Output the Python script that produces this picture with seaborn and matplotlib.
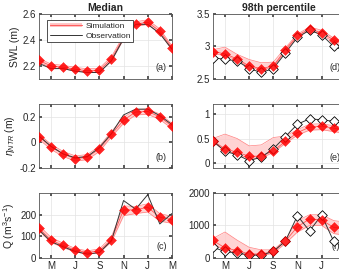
import numpy as np
import pandas as pd
import matplotlib
matplotlib.use("Agg")
import matplotlib.pyplot as plt
import seaborn as sns
from matplotlib.lines import Line2D
from matplotlib.patches import Patch

# months April .. March
months = np.arange(1, 13)
tick_pos = [2, 4, 6, 8, 10, 12]
tick_labels = ["M", "J", "S", "N", "J", "M"]

# Median
swl_med_sim = [2.243, 2.20, 2.19, 2.175, 2.163, 2.168, 2.255, 2.42, 2.52, 2.537, 2.467, 2.34]
swl_med_obs = [2.22, 2.18, 2.18, 2.16, 2.15, 2.15, 2.24, 2.41, 2.52, 2.52, 2.45, 2.33]
swl_med_lo = [2.228, 2.188, 2.178, 2.162, 2.150, 2.155, 2.240, 2.405, 2.505, 2.520, 2.450, 2.325]
swl_med_hi = [2.258, 2.215, 2.205, 2.190, 2.178, 2.183, 2.272, 2.435, 2.540, 2.555, 2.485, 2.355]

ntr_med_sim = [0.046, -0.035, -0.09, -0.127, -0.115, -0.05, 0.064, 0.174, 0.238, 0.243, 0.20, 0.128]
ntr_med_obs = [0.05, -0.03, -0.09, -0.12, -0.11, -0.04, 0.07, 0.215, 0.26, 0.26, 0.21, 0.14]
ntr_med_lo = [0.025, -0.055, -0.11, -0.145, -0.135, -0.07, 0.045, 0.150, 0.215, 0.220, 0.180, 0.108]
ntr_med_hi = [0.065, -0.015, -0.07, -0.105, -0.095, -0.03, 0.085, 0.195, 0.258, 0.262, 0.222, 0.150]

q_med_sim = [137, 82, 58, 36, 25, 33, 85, 222, 222, 234, 188, 177]
q_med_obs = [130, 75, 52, 30, 18, 25, 80, 265, 225, 292, 157, 205]
q_med_lo = [125, 72, 48, 28, 18, 25, 75, 195, 205, 212, 170, 160]
q_med_hi = [150, 95, 68, 44, 33, 42, 98, 240, 238, 250, 205, 192]

# 98th percentile
swl_98_sim = [2.922, 2.886, 2.81, 2.70, 2.66, 2.70, 2.95, 3.17, 3.27, 3.21, 3.10, 3.02]
swl_98_obs = [2.83, 2.80, 2.78, 2.66, 2.60, 2.66, 2.90, 3.14, 3.25, 3.18, 3.00, 2.93]
swl_98_lo = [2.89, 2.86, 2.79, 2.68, 2.64, 2.68, 2.93, 3.15, 3.25, 3.18, 3.07, 2.96]
swl_98_hi = [2.95, 2.99, 2.88, 2.80, 2.75, 2.76, 2.98, 3.19, 3.30, 3.25, 3.13, 3.05]

ntr_98_sim = [0.45, 0.29, 0.22, 0.14, 0.14, 0.25, 0.44, 0.62, 0.73, 0.75, 0.71, 0.66]
ntr_98_obs = [0.45, 0.24, 0.17, 0.05, 0.12, 0.29, 0.54, 0.79, 0.90, 0.88, 0.85, 0.80]
ntr_98_lo = [0.42, 0.26, 0.18, 0.10, 0.10, 0.22, 0.40, 0.57, 0.67, 0.68, 0.64, 0.60]
ntr_98_hi = [0.50, 0.59, 0.50, 0.35, 0.37, 0.52, 0.55, 0.68, 0.79, 0.80, 0.76, 0.72]

q_98_sim = [540, 310, 230, 125, 120, 200, 520, 960, 1200, 1170, 940, 900]
q_98_obs = [330, 200, 150, 95, 90, 200, 520, 1300, 830, 1320, 510, 300]
q_98_lo = [450, 230, 150, 80, 70, 150, 450, 800, 1000, 1000, 750, 700]
q_98_hi = [600, 800, 550, 330, 250, 250, 560, 1150, 1330, 1330, 1150, 1100]

sns.set_theme(style="whitegrid")
plt.rcParams["font.family"] = ["Liberation Sans", "DejaVu Sans"]
plt.rcParams["mathtext.fontset"] = "custom"
plt.rcParams["mathtext.rm"] = "Liberation Sans"
plt.rcParams["mathtext.it"] = "Liberation Sans:italic"

fig = plt.figure(figsize=(3.39, 2.71), dpi=100)

lefts = [0.115, 0.628]
bottoms = [0.7085, 0.380, 0.048]
heights = [0.240, 0.236, 0.240]
w = 0.392

panels = [
    [(swl_med_sim, swl_med_obs, swl_med_lo, swl_med_hi, (2.1, 2.6), [2.2, 2.4, 2.6], ["2.2", "2.4", "2.6"], "(a)"),
     (ntr_med_sim, ntr_med_obs, ntr_med_lo, ntr_med_hi, (-0.2, 0.3), [-0.2, 0, 0.2], ["-0.2", "0", "0.2"], "(b)"),
     (q_med_sim, q_med_obs, q_med_lo, q_med_hi, (0, 300), [0, 100, 200], ["0", "100", "200"], "(c)")],
    [(swl_98_sim, swl_98_obs, swl_98_lo, swl_98_hi, (2.5, 3.5), [2.5, 3, 3.5], ["2.5", "3", "3.5"], "(d)"),
     (ntr_98_sim, ntr_98_obs, ntr_98_lo, ntr_98_hi, (-0.1, 1.2), [0, 0.5, 1], ["0", "0.5", "1"], "(e)"),
     (q_98_sim, q_98_obs, q_98_lo, q_98_hi, (0, 2000), [0, 1000, 2000], ["0", "1000", "2000"], "(f)")],
]
ylabels = ["SWL (m)", r"$\eta_{NTR}$ (m)", r"Q (m$^3$s$^{-1}$)"]
titles = ["Median", "98th percentile"]

for c in range(2):
    for r in range(3):
        sim, obs, lo, hi, ylim, yt, ytl, lab = panels[c][r]
        ax = fig.add_axes([lefts[c], bottoms[r], w, heights[r]])
        ax.fill_between(months, lo, hi, color="#ffc8c8", alpha=0.8, lw=0, zorder=1)
        sns.lineplot(x=months, y=lo, ax=ax, color="#ff8080", lw=0.5, zorder=2)
        sns.lineplot(x=months, y=hi, ax=ax, color="#ff8080", lw=0.5, zorder=2)
        sns.lineplot(x=months, y=sim, ax=ax, color="red", lw=0.6, alpha=0.6, zorder=3)
        sns.lineplot(x=months, y=obs, ax=ax, color="#333333", lw=0.7, zorder=4)
        if c == 1:
            sns.scatterplot(x=months, y=obs, ax=ax, marker="D", s=24, facecolor="white",
                            edgecolor="black", linewidth=0.6, zorder=5)
        sns.scatterplot(x=months, y=sim, ax=ax, marker="D", s=26, color="red",
                        edgecolor="red", linewidth=0.3, alpha=0.85, zorder=6)
        ax.set_xlim(1, 12)
        ax.set_ylim(*ylim)
        ax.set_yticks(yt)
        ax.set_yticklabels(ytl)
        ax.set_xticks(tick_pos)
        if r == 2:
            # last label of the right column falls outside the figure
            ax.set_xticklabels(tick_labels if c == 0 else tick_labels[:-1] + [""])
        else:
            ax.set_xticklabels([])
        ax.tick_params(axis="both", labelsize=7, direction="in", length=2, pad=2,
                       color="#444444", bottom=True, left=True, top=True, right=True)
        ax.grid(True, color="#e3e3e3", lw=0.5)
        for s in ax.spines.values():
            s.set_color("#555555")
            s.set_linewidth(0.6)
        ax.set_xlabel("")
        ax.text(0.96, 0.1, lab, transform=ax.transAxes, ha="right", va="bottom", fontsize=6.5)
        if c == 0:
            ax.set_ylabel(ylabels[r], fontsize=7.5, labelpad=2)
        else:
            ax.set_ylabel("")
        if r == 0:
            ax.set_title(titles[c], fontsize=7.5, fontweight="bold", pad=2)
        if c == 0 and r == 0:
            h_sim = (Patch(facecolor="#ffc8c8", edgecolor="none"), Line2D([], [], color="#ff6060", lw=0.8))
            h_obs = Line2D([], [], color="#333333", lw=0.7)
            leg = ax.legend([h_sim, h_obs], ["Simulation", "Observation"], loc="upper left",
                            bbox_to_anchor=(0.03, 0.97), fontsize=6.0, handlelength=3.9,
                            handleheight=0.5, borderpad=0.3, labelspacing=0.3, handletextpad=0.4,
                            fancybox=False, framealpha=1)
            leg.get_frame().set_edgecolor("#333333")
            leg.get_frame().set_linewidth(0.6)
            leg.set_zorder(10)

fig.savefig("out.png", dpi=100)
